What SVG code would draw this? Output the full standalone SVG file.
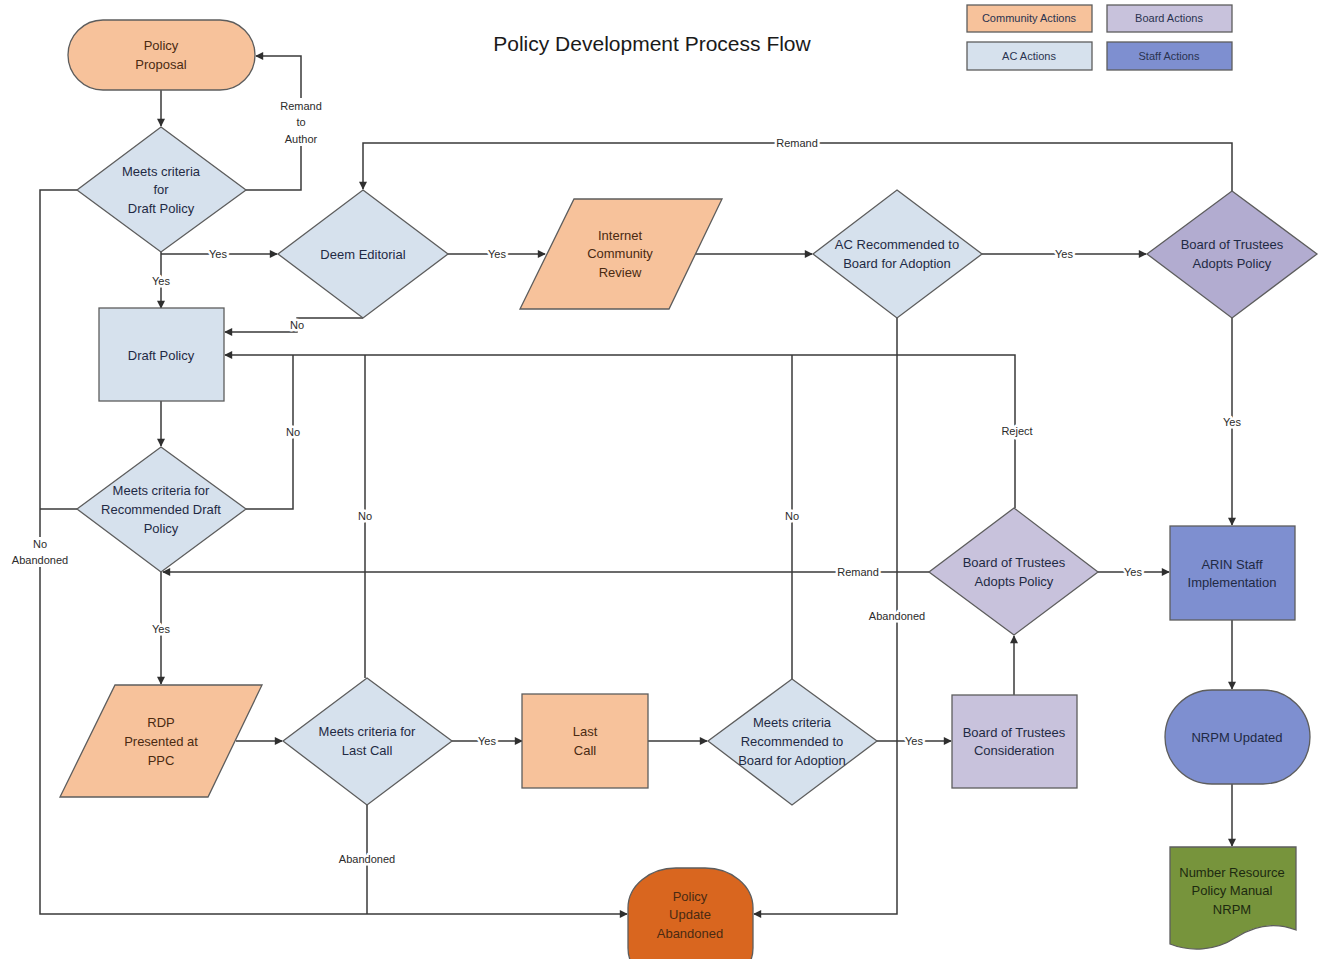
<svg xmlns="http://www.w3.org/2000/svg" width="1319" height="959" viewBox="0 0 1319 959">
<style>
text{font-family:"Liberation Sans",Arial,sans-serif;text-anchor:middle;}
.n{font-size:13px;fill:#1f2a44;}
.no{font-size:13px;fill:#4a2a12;}
.lg{font-size:11px;fill:#2a3350;}
.lb{font-size:11px;fill:#2b2b2b;stroke:#fff;stroke-width:5px;paint-order:stroke;stroke-linejoin:round;}
.sh{stroke:#5d5d5d;stroke-width:1.3;}
.comm{fill:#f7c29b;}
.ac{fill:#d6e1ed;}
.board{fill:#c8c2dc;}
.board2{fill:#b2acd0;}
.staff{fill:#7e8fd0;}
.ab{fill:#d9661f;}
.doc{fill:#77943c;}
.c{fill:none;stroke:#3a3a3a;stroke-width:1.5;}
.a{marker-end:url(#ar);}
</style>
<defs>
<marker id="ar" viewBox="0 0 10 10" refX="9" refY="5" markerWidth="9" markerHeight="8" markerUnits="userSpaceOnUse" orient="auto">
<path d="M0,0 L10,5 L0,10 Z" fill="#2f2f2f"/>
</marker>
</defs>
<rect width="1319" height="959" fill="#fff"/>
<text x="652" y="51" style="font-size:21px;fill:#1a1a1a;">Policy Development Process Flow</text>

<g id="legend">
<rect class="sh comm" x="967" y="5" width="125" height="27"/>
<text class="lg" x="1029" y="22">Community Actions</text>
<rect class="sh board" x="1107" y="5" width="125" height="27"/>
<text class="lg" x="1169" y="22">Board Actions</text>
<rect class="sh ac" x="967" y="42" width="125" height="28"/>
<text class="lg" x="1029" y="60">AC Actions</text>
<rect class="sh staff" x="1107" y="42" width="125" height="28"/>
<text class="lg" x="1169" y="60">Staff Actions</text>
</g>

<g id="connectors">
<path class="c a" d="M161,90 V126"/>
<path class="c a" d="M246,190 H301 V56 H256"/>
<path class="c a" d="M161,252 V308"/>
<path class="c a" d="M161,254 H277"/>
<path class="c a" d="M77,190 H40 V914 H627"/>
<path class="c a" d="M448,254 H545"/>
<path class="c a" d="M363,318 H297 V332 H225"/>
<path class="c a" d="M695,254 H812"/>
<path class="c a" d="M982,254 H1146"/>
<path class="c a" d="M1232,191 V143 H363 V189"/>
<path class="c a" d="M1232,318 V525"/>
<path class="c a" d="M897,318 V914 H754"/>
<path class="c a" d="M161,401 V446"/>
<path class="c" d="M246,509 H293 V355"/>
<path class="c a" d="M1015,508 V355 H225"/>
<path class="c" d="M77,509 H40"/>
<path class="c a" d="M161,572 V684"/>
<path class="c a" d="M236,741 H282"/>
<path class="c" d="M365,678 V355"/>
<path class="c a" d="M452,741 H522"/>
<path class="c" d="M367,805 V914"/>
<path class="c a" d="M648,741 H707"/>
<path class="c" d="M792,679 V355"/>
<path class="c a" d="M877,741 H951"/>
<path class="c a" d="M1014,695 V636"/>
<path class="c a" d="M929,572 H163"/>
<path class="c a" d="M1098,572 H1169"/>
<path class="c a" d="M1232,620 V689"/>
<path class="c a" d="M1232,784 V846"/>
<rect x="276" y="98" width="50" height="48" fill="#fff"/>
<text class="lb" x="301" y="110">Remand</text>
<text class="lb" x="301" y="126">to</text>
<text class="lb" x="301" y="143">Author</text>
<text class="lb" x="161" y="285">Yes</text>
<text class="lb" x="218" y="258">Yes</text>
<rect x="8" y="537" width="64" height="30" fill="#fff"/>
<text class="lb" x="40" y="548">No</text>
<text class="lb" x="40" y="564">Abandoned</text>
<text class="lb" x="497" y="258">Yes</text>
<text class="lb" x="297" y="329">No</text>
<text class="lb" x="1064" y="258">Yes</text>
<text class="lb" x="797" y="147">Remand</text>
<text class="lb" x="1232" y="426">Yes</text>
<text class="lb" x="897" y="620">Abandoned</text>
<text class="lb" x="293" y="436">No</text>
<text class="lb" x="1017" y="435">Reject</text>
<text class="lb" x="161" y="633">Yes</text>
<text class="lb" x="365" y="520">No</text>
<text class="lb" x="487" y="745">Yes</text>
<text class="lb" x="367" y="863">Abandoned</text>
<text class="lb" x="792" y="520">No</text>
<text class="lb" x="914" y="745">Yes</text>
<text class="lb" x="858" y="576">Remand</text>
<text class="lb" x="1133" y="576">Yes</text>
</g>

<g id="policy-proposal">
<rect class="sh comm" x="68" y="20" width="187" height="70" rx="35"/>
<text class="no" x="161" y="50">Policy</text>
<text class="no" x="161" y="69">Proposal</text>
</g>

<g id="meets-draft">
<polygon class="sh ac" points="161,127 246,190 161,252 77,190"/>
<text class="n" x="161" y="176">Meets criteria</text>
<text class="n" x="161" y="194">for</text>
<text class="n" x="161" y="213">Draft Policy</text>
</g>

<g id="deem-editorial">
<polygon class="sh ac" points="363,190 448,254 363,318 278,254"/>
<text class="n" x="363" y="259">Deem Editorial</text>
</g>

<g id="internet-review">
<polygon class="sh comm" points="574,199 722,199 669,309 520,309"/>
<text class="no" x="620" y="240">Internet</text>
<text class="no" x="620" y="258">Community</text>
<text class="no" x="620" y="277">Review</text>
</g>

<g id="ac-recommended">
<polygon class="sh ac" points="897,190 982,254 897,318 813,254"/>
<text class="n" x="897" y="249">AC Recommended to</text>
<text class="n" x="897" y="268">Board for Adoption</text>
</g>

<g id="bot-adopts-top">
<polygon class="sh board2" points="1232,191 1317,254 1232,318 1147,254"/>
<text class="n" x="1232" y="249">Board of Trustees</text>
<text class="n" x="1232" y="268">Adopts Policy</text>
</g>

<g id="draft-policy">
<rect class="sh ac" x="99" y="308" width="125" height="93"/>
<text class="n" x="161" y="360">Draft Policy</text>
</g>

<g id="meets-recommended">
<polygon class="sh ac" points="161,447 246,509 161,572 77,509"/>
<text class="n" x="161" y="495">Meets criteria for</text>
<text class="n" x="161" y="514">Recommended Draft</text>
<text class="n" x="161" y="533">Policy</text>
</g>

<g id="rdp-ppc">
<polygon class="sh comm" points="115,685 262,685 208,797 60,797"/>
<text class="no" x="161" y="727">RDP</text>
<text class="no" x="161" y="746">Presented at</text>
<text class="no" x="161" y="765">PPC</text>
</g>

<g id="meets-last-call">
<polygon class="sh ac" points="367,678 452,741 367,805 283,741"/>
<text class="n" x="367" y="736">Meets criteria for</text>
<text class="n" x="367" y="755">Last Call</text>
</g>

<g id="last-call">
<rect class="sh comm" x="522" y="694" width="126" height="94"/>
<text class="no" x="585" y="736">Last</text>
<text class="no" x="585" y="755">Call</text>
</g>

<g id="meets-board">
<polygon class="sh ac" points="792,679 877,741 792,805 708,741"/>
<text class="n" x="792" y="727">Meets criteria</text>
<text class="n" x="792" y="746">Recommended to</text>
<text class="n" x="792" y="765">Board for Adoption</text>
</g>

<g id="bot-consideration">
<rect class="sh board" x="952" y="695" width="125" height="93"/>
<text class="n" x="1014" y="737">Board of Trustees</text>
<text class="n" x="1014" y="755">Consideration</text>
</g>

<g id="bot-adopts-lower">
<polygon class="sh board" points="1014,508 1098,572 1014,635 929,572"/>
<text class="n" x="1014" y="567">Board of Trustees</text>
<text class="n" x="1014" y="586">Adopts Policy</text>
</g>

<g id="arin-staff">
<rect class="sh staff" x="1170" y="526" width="125" height="94"/>
<text class="n" x="1232" y="569">ARIN Staff</text>
<text class="n" x="1232" y="587">Implementation</text>
</g>

<g id="nrpm-updated">
<rect class="sh staff" x="1165" y="690" width="145" height="94" rx="47"/>
<text class="n" x="1237" y="742">NRPM Updated</text>
</g>

<g id="nrpm-doc">
<path class="sh doc" d="M1170,847 H1296 V930 C1275,922 1255,925 1235,938 C1215,951 1190,952 1170,944 Z"/>
<text class="n" x="1232" y="877" style="fill:#1d2a10">Number Resource</text>
<text class="n" x="1232" y="895" style="fill:#1d2a10">Policy Manual</text>
<text class="n" x="1232" y="914" style="fill:#1d2a10">NRPM</text>
</g>

<g id="policy-abandoned">
<rect class="sh ab" x="628" y="868" width="125" height="120" rx="48" ry="40"/>
<text class="no" x="690" y="901">Policy</text>
<text class="no" x="690" y="919">Update</text>
<text class="no" x="690" y="938">Abandoned</text>
</g>
</svg>
